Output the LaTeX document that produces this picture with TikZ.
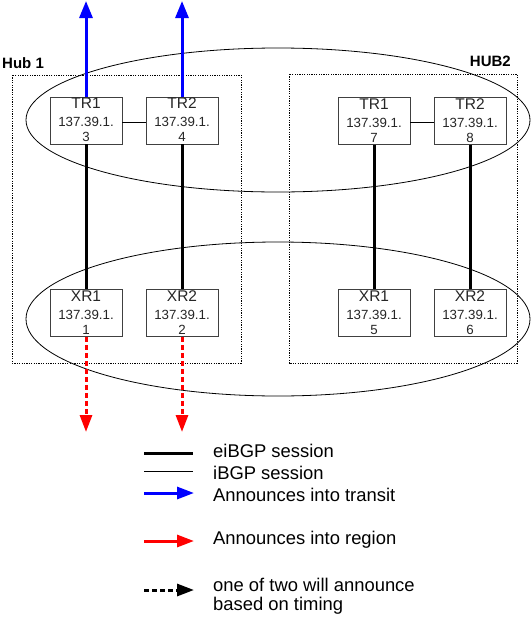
\documentclass[tikz,border=0pt]{standalone}
\usepackage{fontspec}
\setmainfont{Liberation Sans}
\usetikzlibrary{arrows.meta,calc}
\begin{document}
\begin{tikzpicture}[x=1pt,y=-1pt,
  router/.style={draw=black!75, fill=white, line width=0.8pt, minimum width=72pt, minimum height=47pt, inner sep=0pt},
  hubbox/.style={draw=black, line width=0.8pt, dash pattern=on 1.2pt off 1.2pt},
  oval/.style={draw=black, line width=0.8pt},
  ebgp/.style={line width=3pt},
  ibgp/.style={line width=0.8pt},
  transit/.style={blue, line width=3pt, -{Triangle[length=17pt,width=13pt]}},
  region/.style={red, line width=3pt, dash pattern=on 5pt off 3pt, -{Triangle[length=17pt,width=12pt]}},
  timing/.style={black, line width=3pt, dash pattern=on 5pt off 3pt, -{Triangle[length=17pt,width=12pt]}},
  namefont/.style={inner sep=0pt, text=black!85, font=\fontsize{15.5}{15.5}\selectfont},
  ipfont/.style={inner sep=0pt, text=black!85, font=\fontsize{13.3}{13.3}\selectfont},
  hubfont/.style={inner sep=0pt, font=\bfseries\fontsize{15}{15}\selectfont},
  legfont/.style={inner sep=0pt, anchor=west, font=\fontsize{18.4}{18.4}\selectfont}
]
\useasboundingbox (0,0) rectangle (531,619);

% hub boxes
\draw[hubbox] (12,75) rectangle (241,363);
\draw[hubbox] (289,74) rectangle (517,363);
\node[hubfont, anchor=west] (hub1) at (2,63) {Hub 1};
\node[hubfont, anchor=east] (hub2) at (511,61) {HUB2};

% ellipses
\draw[oval] (278,120) ellipse [x radius=252pt, y radius=72pt];
\draw[oval] (278,319) ellipse [x radius=252pt, y radius=77pt];

% routers
\foreach \n/\x/\y/\t/\d in {ta/86/120.5/TR1/3, tb/182/120.5/TR2/4, tc/374/121/TR1/7, td/470/121/TR2/8,
                             xa/86/313/XR1/1, xb/182/313/XR2/2, xc/374/313/XR1/5, xd/470/313/XR2/6} {
  \node[router] (\n) at (\x,\y) {};
  \node[namefont] at (\x,\y-17) {\t};
  \node[ipfont] at (\x,\y+1.5) {137.39.1.};
  \node[ipfont] at (\x,\y+16.5) {\d};
}

% iBGP
\draw[ibgp] ($(ta.east)+(0,1.5)$) -- ($(tb.west)+(0,1.5)$);
\draw[ibgp] ($(tc.east)+(0,1)$) -- ($(td.west)+(0,1)$);

% eiBGP
\draw[ebgp] (ta.south) -- (xa.north);
\draw[ebgp] (tb.south) -- (xb.north);
\draw[ebgp] (tc.south) -- (xc.north);
\draw[ebgp] (td.south) -- (xd.north);

% announcements
\coordinate (up1) at (86,1);
\coordinate (up2) at (182,1);
\coordinate (dn1) at (86,432);
\coordinate (dn2) at (182,432);
\draw[transit] (ta.north) -- (up1);
\draw[transit] (tb.north) -- (up2);
\draw[region] (xa.south) -- (dn1);
\draw[region] (xb.south) -- (dn2);

% legend
\coordinate (l1a) at (144,453); \coordinate (l1b) at (193,453);
\coordinate (l2a) at (144,471); \coordinate (l2b) at (193,471);
\coordinate (l3a) at (144,493); \coordinate (l3b) at (194,493);
\coordinate (l4a) at (144,541); \coordinate (l4b) at (194,541);
\coordinate (l5a) at (144,590); \coordinate (l5b) at (194,590);
\draw[ebgp] (l1a) -- (l1b);
\draw[ibgp] (l2a) -- (l2b);
\draw[blue, line width=3pt, -{Triangle[length=17pt,width=12pt]}] (l3a) -- (l3b);
\draw[red, line width=3pt, -{Triangle[length=17pt,width=12pt]}] (l4a) -- (l4b);
\draw[timing] (l5a) -- (l5b);
\node[legfont] (t1) at (213,451) {eiBGP session};
\node[legfont] (t2) at (213,473) {iBGP session};
\node[legfont] (t3) at (213,495) {Announces into transit};
\node[legfont] (t4) at (213,540) {Announces into region};
\node[legfont] (t5) at (213,585) {one of two will announce};
\node[legfont] (t6) at (213,606) {based on timing};
\end{tikzpicture}
\end{document}
